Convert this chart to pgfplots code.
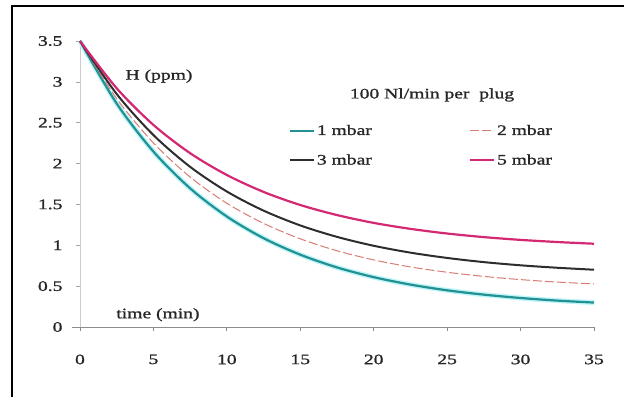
\documentclass[border=0pt]{standalone}
\usepackage{pgfplots}
\pgfplotsset{compat=1.18}
\usepackage{fontspec}
\setmainfont{Liberation Serif}[FakeStretch=1.35,FakeBold=1.2]
\definecolor{cteal}{RGB}{35,145,145}
\definecolor{chalo}{RGB}{190,245,250}
\definecolor{cmag}{RGB}{212,40,115}
\definecolor{cblk}{RGB}{45,45,45}
\definecolor{csal}{RGB}{215,125,115}
\newcommand{\tfont}{\fontsize{14.5}{16}\selectfont}
\begin{document}
\begin{tikzpicture}
\useasboundingbox (0,0) rectangle (624pt,397pt);
\fill[white] (0,0) rectangle (624pt,397pt);
\draw[line width=1.2pt] (12pt,0) -- (12pt,391pt) -- (624pt,391pt);
\begin{axis}[
  at={(80pt,70pt)}, anchor=south west,
  scale only axis, width=514pt, height=286pt,
  xmin=0, xmax=35, ymin=0, ymax=3.5,
  axis x line*=bottom, axis y line*=left,
  x axis line style={black!45, line width=0.8pt, shorten <=-8pt},
  y axis line style={black!20, line width=0.6pt},
  xtick={0,5,...,35}, ytick={0,0.5,...,3.5},
  tick align=outside, major tick length=4pt,
  xtick style={black!45, line width=0.8pt},
  ytick style={black!35, line width=0.6pt},
  /pgf/number format/assume math mode=true,
  every tick label/.append style={font=\tfont, text=black!85},
  xticklabel style={yshift=-20pt},
  yticklabel style={xshift=-10pt},
  clip=false,
  legend columns=2,
  legend image code/.code={\draw[#1] (0pt,0pt) -- (24pt,0pt);},
  legend style={at={(axis cs:14.2,2.50)}, anchor=north west, draw=none, fill=none,
    font=\tfont, inner sep=0pt, row sep=14pt,
    nodes={inner sep=2pt, text=black!85},
    /tikz/every even column/.append style={column sep=95pt}},
]
\addplot[chalo, line width=5pt, smooth, forget plot] coordinates {
(0,3.5)(2.5,2.734)(5,2.147)(7.5,1.697)(10,1.352)(12.5,1.087)(15,0.885)(17.5,0.729)(20,0.610)(22.5,0.519)(25,0.449)(27.5,0.396)(30,0.355)(32.5,0.323)(35,0.299)};
\addplot[cteal, line width=2.2pt, smooth] coordinates {
(0,3.5)(2.5,2.734)(5,2.147)(7.5,1.697)(10,1.352)(12.5,1.087)(15,0.885)(17.5,0.729)(20,0.610)(22.5,0.519)(25,0.449)(27.5,0.396)(30,0.355)(32.5,0.323)(35,0.299)};
\addlegendentry{1 mbar}
\addplot[csal, line width=1pt, smooth, dash pattern=on 9pt off 3pt] coordinates {
(0,3.5)(2.5,2.794)(5,2.252)(7.5,1.835)(10,1.514)(12.5,1.268)(15,1.079)(17.5,0.933)(20,0.821)(22.5,0.735)(25,0.670)(27.5,0.619)(30,0.580)(32.5,0.550)(35,0.527)};
\addlegendentry{2 mbar}
\addplot[cblk, line width=2pt, smooth] coordinates {
(0,3.5)(2.5,2.851)(5,2.349)(7.5,1.960)(10,1.658)(12.5,1.424)(15,1.243)(17.5,1.103)(20,0.994)(22.5,0.910)(25,0.845)(27.5,0.794)(30,0.755)(32.5,0.725)(35,0.701)};
\addlegendentry{3 mbar}
\addplot[cmag, line width=2.2pt, smooth] coordinates {
(0,3.5)(2.5,2.921)(5,2.473)(7.5,2.127)(10,1.860)(12.5,1.653)(15,1.493)(17.5,1.370)(20,1.274)(22.5,1.201)(25,1.144)(27.5,1.100)(30,1.066)(32.5,1.040)(35,1.019)};
\addlegendentry{5 mbar}
\node[font=\tfont, text=black!85] at (axis cs:5.38,3.07) {H (ppm)};
\node[font=\tfont, text=black!85] at (axis cs:5.31,0.15) {time (min)};
\node[font=\tfont, text=black!85] at (axis cs:23.97,2.84) {100 Nl/min per\ \ plug};
\end{axis}
\end{tikzpicture}
\end{document}
